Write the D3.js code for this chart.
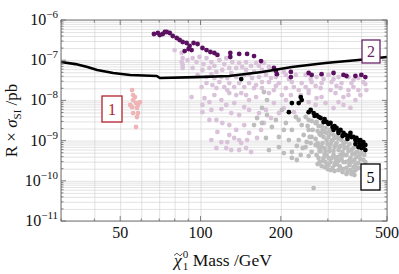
<!DOCTYPE html>
<html lang="en">
<head>
<meta charset="UTF-8">
<title>R x sigma_SI vs neutralino mass</title>
<script src="https://d3js.org/d3.v7.min.js"></script>
<style>
  body { margin: 0; background: #fff; }
  svg { display: block; font-family: "Liberation Serif", "DejaVu Serif", serif; }
  .grid line { stroke: #cfcfcf; stroke-width: 0.6; }
  .grid path { display: none; }
</style>
</head>
<body>
<div id="chart"></div>
<script>
// tick labels
var xTicks = [50, 100, 200, 500];
var yTicks = [1e-6, 1e-7, 1e-8, 1e-9, 1e-10, 1e-11];
var yTickExp = ["\u22126", "\u22127", "\u22128", "\u22129", "\u221210", "\u221211"];

// exclusion curve (mass GeV, R x sigma pb)
var limitMass  = [30, 34, 37.7, 41, 47.1, 54.5, 68.6, 70.4, 96.6, 128, 170, 220, 294, 390, 500];
var limitSigma = [9.0e-8, 8.0e-8, 6.8e-8, 5.7e-8, 4.8e-8, 4.3e-8, 4.05e-8, 3.6e-8, 3.8e-8, 4.05e-8, 5.1e-8, 6.8e-8, 8.5e-8, 1.01e-7, 1.2e-7];

// model points [mass, R x sigma]
var region1 = [[55.4,1.81e-8],[55.9,1.36e-8],[56.8,1.21e-8],[55.9,1.02e-8],[57.3,8.6e-9],[58.3,7.7e-9],[59.3,9.1e-9],
  [54.5,7.7e-9],[55.4,6.8e-9],[57.8,6.5e-9],[55.9,4.85e-9],[58.3,4.85e-9],[57.8,3.86e-9],[57.3,2.18e-9]];

var region2 = [[66.9,4.49e-7],[69.2,4.75e-7],[70.4,4.24e-7],[72.2,4.49e-7],[73.5,5.03e-7],[74.7,5.03e-7],[76.7,4.75e-7],
  [78.7,4.0e-7],[81.4,3.57e-7],[83.5,3.18e-7],[85.7,2.84e-7],[88.7,2.68e-7],[91.0,2.26e-7],[94.2,2.68e-7],[97.5,2.53e-7],
  [87.2,1.69e-7],[90.2,1.90e-7],[92.6,1.79e-7],[101.7,2.01e-7],[105.3,1.79e-7],[108.9,1.60e-7],[112.7,1.51e-7],[115.7,1.35e-7],
  [129.3,1.51e-7],[129.3,1.2e-7],[139.6,1.43e-7],[149.5,1.43e-7],[158.7,1.27e-7],[168.6,9.5e-8],[188.4,6.4e-8],[191.7,5.4e-8],
  [193.3,4.5e-8],[218.1,5.1e-8],[218.1,3.8e-8],[254.3,4.8e-8],[260.9,4.3e-8],[284.3,4.5e-8],[315.2,4.8e-8],[343.4,4.3e-8],
  [352.4,4.05e-8],[380.7,4.05e-8],[400.8,4.3e-8],[414.8,3.8e-8]];

var regionLilac = [[80.0,1.79e-7],[85.0,1.51e-7],[85.7,1.13e-7],[85.0,9.0e-8],[85.7,7.6e-8],[93.4,1.13e-7],[99.1,1.2e-7],
  [105.3,1.13e-7],[109.8,9.0e-8],[117.7,1.01e-7],[124.9,1.13e-7],[131.5,9.0e-8],[139.6,8.5e-8],[148.2,9.0e-8],[161.5,8.5e-8],
  [172.9,8.5e-8],[85.7,6.4e-8],[93.4,6.4e-8],[101.7,5.7e-8],[108.0,6.4e-8],[114.7,5.1e-8],[120.7,5.7e-8],[128.2,6.4e-8],
  [136.1,6.4e-8],[148.2,5.7e-8],[158.7,5.1e-8],[170.0,5.7e-8],[105.3,3.8e-8],[112.7,3.6e-8],[119.7,3.8e-8],[126.0,3.6e-8],
  [136.1,3.8e-8],[145.8,4.3e-8],[156.1,3.6e-8],[165.7,3.8e-8],[175.9,4.3e-8],[100.9,2.15e-8],[105.3,2.7e-8],[110.8,2.4e-8],
  [117.7,2.86e-8],[122.8,2.15e-8],[128.2,2.7e-8],[133.8,2.15e-8],[139.6,2.7e-8],[152.1,2.7e-8],[161.5,2.4e-8],[170.0,2.86e-8],
  [112.7,1.36e-8],[103.5,1.14e-8],[108.0,9.1e-9],[101.7,7.7e-9],[101.7,5.1e-9],[109.8,5.8e-9],[119.7,6.1e-9],[124.9,7.7e-9],
  [133.8,8.6e-9],[126.0,1.81e-8],[128.2,1.52e-8],[142.1,1.52e-8],[148.2,1.36e-8],[158.7,2.03e-8],[161.5,1.21e-8],[152.1,5.8e-9],
  [139.6,4.33e-9],[114.7,3.25e-9],[120.7,2.74e-9],[128.2,2.44e-9],[136.1,1.84e-9],[115.7,1.64e-9],[119.7,9.2e-10],[126.0,9.2e-10],
  [133.8,1.16e-9],[139.6,1.03e-9],[142.1,8.7e-10],[149.5,1.03e-9],[152.1,1.55e-9],[162.9,1.16e-9],[168.6,1.84e-9],[172.9,2.74e-9],
  [165.7,4.85e-9],[114.7,6.5e-10],[124.9,6.5e-10],[130.4,5.8e-10],[148.2,6.5e-10],[154.7,5.2e-10],[92.6,1.21e-8],
  [170.0,9.0e-8],[180.5,6.8e-8],[205.3,5.1e-8],[191.7,3.8e-8],[208.9,4.3e-8],[227.7,4.3e-8],[247.8,4.3e-8],[272.3,3.8e-8],
  [301.9,4.3e-8],[329.0,3.8e-8],[358.5,3.8e-8],[390.6,3.6e-8],[180.5,2.86e-8],[196.7,2.7e-8],[220.0,2.86e-8],[239.5,2.7e-8],
  [260.9,2.86e-8],[284.3,2.7e-8],[309.8,2.86e-8],[337.6,2.7e-8],[367.8,2.7e-8],[170.0,2.03e-8],[188.4,1.81e-8],[208.9,2.03e-8],
  [233.4,1.81e-8],[254.3,1.81e-8],[281.8,2.03e-8],[307.2,1.81e-8],[334.7,2.03e-8],[358.5,1.81e-8],[180.5,1.52e-8],[201.8,1.36e-8],
  [254.3,1.52e-8],[284.3,1.21e-8],[320.6,1.52e-8],[358.5,1.36e-8],[329.0,9.1e-9],[294.2,8.6e-9],[270.0,7.7e-9],[188.4,8.6e-9],
  [175.9,5.8e-9],[196.7,4.85e-9],[223.8,5.1e-9],[374.2,2.15e-8],[247.8,2.15e-8],[407.7,2.86e-8],[418.4,1.81e-8],[397.4,1.36e-8],
  [380.7,1.02e-8],[343.4,7.7e-9],[364.7,6.5e-9],
  [89.4,1.01e-7],[96.6,9.0e-8],[102.6,8.0e-8],[112.7,7.2e-8],[122.8,8.0e-8],[143.3,6.8e-8],[154.7,7.2e-8],[165.7,7.2e-8],
  [97.5,4.3e-8],[109.8,4.5e-8],[130.4,4.8e-8],[152.1,4.5e-8],[114.7,2.03e-8],[145.8,2.15e-8],[136.1,1.36e-8],[119.7,1.02e-8],
  [152.1,1.02e-8],[145.8,6.84e-9],[130.4,4.85e-9],[108.0,3.25e-9],[145.8,2.44e-9],[109.8,1.03e-9],[128.2,1.38e-9],[139.6,5.83e-10],
  [183.7,3.6e-8],[214.4,3.4e-8],[258.7,3.4e-8],[289.2,3.4e-8],[315.2,3.4e-8],[374.2,3.2e-8],[414.8,2.55e-8],[191.7,2.28e-8],
  [223.8,2.15e-8],[270.0,2.28e-8],[323.4,2.28e-8],[390.6,1.81e-8],[218.1,1.36e-8],[237.5,1.36e-8],[272.3,1.14e-8],[343.4,1.21e-8],
  [208.9,1.02e-8],[254.3,9.1e-9],[315.2,6.46e-9],[205.3,6.46e-9],[183.7,3.65e-9]];

var regionGray = [[170.0,2.74e-9],[185.2,2.18e-9],[208.9,2.74e-9],[233.4,3.25e-9],[247.8,3.86e-9],[227.7,3.86e-9],[220.0,1.84e-9],
  [196.7,1.23e-9],[175.9,1.16e-9],[233.4,1.03e-9],[260.9,1.23e-9],[284.3,1.55e-9],[277.0,7.8e-10],[247.8,6.9e-10],[180.5,5.8e-10],
  [196.7,6.9e-10],[205.3,4.9e-10],[220.0,5.2e-10],[220.0,3.7e-10],[237.5,4.4e-10],[260.9,5.2e-10],[270.0,7.8e-10],[265.4,6.6e-11],
  [254.3,3.25e-9],[270.0,2.74e-9],[239.5,2.44e-9],[254.3,1.84e-9],[172.9,1.61e-8],[177.5,1.02e-8],[170.0,6.5e-9],[177.5,4.33e-9],
  [162.9,3.65e-9],[158.7,2.44e-9],[201.8,5.8e-9],[191.7,3.25e-9],[214.4,1.03e-9],[243.6,1.38e-9],[258.7,8.7e-10],[205.3,1.84e-9],
  [272.3,2.9e-9],[274.7,1.73e-9],[270.0,1.1e-9],[277.0,6.9e-10],[272.3,4.4e-10],[279.4,2.93e-10],[284.3,2.31e-9],[281.8,1.38e-9],
  [286.7,8.7e-10],[281.8,5.5e-10],[289.2,3.7e-10],[284.3,2.33e-10],[294.2,2.06e-9],[291.7,1.64e-9],[296.8,1.03e-9],[291.7,6.5e-10],
  [296.8,4.4e-10],[294.2,2.93e-10],[299.3,1.96e-10],[304.5,1.84e-9],[301.9,1.23e-9],[307.2,8.2e-10],[304.5,5.5e-10],[309.8,3.7e-10],
  [301.9,2.47e-10],[307.2,1.85e-10],[315.2,1.38e-9],[312.5,1.03e-9],[317.9,6.9e-10],[315.2,4.4e-10],[320.6,2.93e-10],[312.5,2.08e-10],
  [326.2,1.23e-9],[323.4,8.7e-10],[329.0,5.8e-10],[326.2,3.9e-10],[323.4,2.61e-10],[329.0,1.85e-10],[337.6,1.03e-9],[334.7,7.3e-10],
  [340.5,5.2e-10],[337.6,3.48e-10],[331.8,2.33e-10],[340.5,1.65e-10],[349.4,9.2e-10],[346.4,6.5e-10],[352.4,4.4e-10],[349.4,2.93e-10],
  [343.4,1.96e-10],[352.4,1.47e-10],[361.6,8.2e-10],[358.5,5.5e-10],[364.7,3.7e-10],[361.6,2.47e-10],[355.4,1.65e-10],[374.2,6.5e-10],
  [371.0,4.6e-10],[377.4,3.3e-10],[374.2,2.2e-10],[367.8,1.47e-10],[387.3,5.2e-10],[384.0,3.9e-10],[390.6,2.77e-10],[380.7,1.85e-10],
  [400.8,4.9e-10],[397.4,3.48e-10],[411.2,4.4e-10],[414.8,2.93e-10],[387.3,2.08e-10],[377.4,1.39e-10],
  [277.0,2.31e-9],[279.4,1.46e-9],[274.7,8.7e-10],[279.4,5.5e-10],[277.0,3.69e-10],[274.7,2.61e-10],[286.7,1.84e-9],[289.2,1.23e-9],
  [284.3,6.92e-10],[291.7,4.63e-10],[286.7,3.1e-10],[291.7,2.2e-10],[296.8,1.55e-9],[299.3,8.22e-10],[294.2,5.5e-10],[301.9,3.69e-10],
  [296.8,2.33e-10],[307.2,1.46e-9],[309.8,9.76e-10],[304.5,6.54e-10],[307.2,2.93e-10],[317.9,1.75e-10],[317.9,1.16e-9],[320.6,7.76e-10],
  [315.2,5.5e-10],[320.6,3.69e-10],[317.9,2.47e-10],[329.0,1.1e-9],[331.8,6.92e-10],[334.7,4.38e-10],[329.0,3.1e-10],[334.7,2.08e-10],
  [343.4,8.22e-10],[343.4,4.38e-10],[343.4,2.93e-10],[355.4,6.92e-10],[358.5,3.1e-10],[352.4,2.08e-10],[367.8,5.83e-10],[367.8,2.93e-10],
  [364.7,1.85e-10],[380.7,4.91e-10],[380.7,2.61e-10],[374.2,1.65e-10],[394.0,4.13e-10],[407.7,3.29e-10],[390.6,2.08e-10],
  [260.9,3.07e-9],[252.1,2.31e-9],[263.2,1.84e-9],[256.5,1.23e-9],[250.0,9.22e-10],[241.5,6.54e-10],[229.6,7.33e-10],[254.3,4.13e-10],
  [229.6,3.29e-10]];

var region5 = [[142.1,3.4e-8],[237.5,1.21e-8],[239.5,1.02e-8],[233.4,8.6e-9],[220.0,8.6e-9],[214.4,5.1e-9],[254.3,5.1e-9],
  [258.7,5.8e-9],[265.4,4.85e-9],[267.7,4.1e-9],[272.3,4.3e-9],[277.0,3.9e-9],[281.8,3.65e-9],[289.2,2.9e-9],[291.7,3.44e-9],
  [296.8,2.9e-9],[301.9,2.6e-9],[307.2,2.74e-9],[312.5,2.18e-9],[315.2,1.84e-9],[317.9,2.3e-9],[323.4,2.06e-9],[329.0,1.73e-9],
  [329.0,1.55e-9],[334.7,1.84e-9],[340.5,1.3e-9],[343.4,1.55e-9],[349.4,1.38e-9],[355.4,1.1e-9],[358.5,1.3e-9],[364.7,1.55e-9],
  [367.8,1.23e-9],[374.2,1.23e-9],[380.7,1.03e-9],[384.0,1.16e-9],[390.6,1.03e-9],[394.0,8.7e-10],[397.4,1.03e-9],[400.8,8.2e-10],
  [407.7,9.2e-10],[407.7,6.9e-10],[414.8,7.8e-10],[400.8,6.5e-10],[390.6,6.9e-10],[414.8,5.8e-10],[380.7,8.2e-10]];

var width = 399, height = 274;
var margin = {top: 20, right: 12, bottom: 53, left: 61};
var plotW = width - margin.left - margin.right;
var plotH = height - margin.top - margin.bottom;

var svg = d3.select("#chart").append("svg")
  .attr("width", width)
  .attr("height", height);

var x = d3.scaleLog().domain([30, 500]).range([margin.left, margin.left + plotW]);
var y = d3.scaleLog().domain([1e-11, 1e-6]).range([margin.top + plotH, margin.top]);

// grid lines
svg.append("g").attr("class", "grid")
  .attr("transform", "translate(0," + margin.top + ")")
  .call(d3.axisBottom(x).tickValues(x.ticks()).tickSize(plotH).tickFormat(""));
svg.append("g").attr("class", "grid")
  .attr("transform", "translate(" + margin.left + ",0)")
  .call(d3.axisRight(y).tickValues(y.ticks()).tickSize(plotW).tickFormat(""));

// points
function drawPoints(data, color) {
  svg.append("g").selectAll("circle")
    .data(data)
    .enter().append("circle")
    .attr("cx", function(d) { return x(d[0]); })
    .attr("cy", function(d) { return y(d[1]); })
    .attr("r", 2.4)
    .attr("fill", color);
}
drawPoints(regionLilac, "#d9c2da");
drawPoints(regionGray, "#bdbdbd");
drawPoints(region1, "#efb4b6");
drawPoints(region5, "#000");
drawPoints(region2, "#5b1060");

// limit curve
var line = d3.line()
  .x(function(d, i) { return x(limitMass[i]); })
  .y(function(d) { return y(d); });
svg.append("path")
  .attr("d", line(limitSigma))
  .attr("fill", "none")
  .attr("stroke", "#000")
  .attr("stroke-width", 2.6)
  .attr("stroke-linejoin", "round");

// frame and inward ticks
svg.append("rect")
  .attr("x", margin.left).attr("y", margin.top)
  .attr("width", plotW).attr("height", plotH)
  .attr("fill", "none").attr("stroke", "#666").attr("stroke-width", 0.9);

var frameTicks = svg.append("g").attr("stroke", "#666").attr("stroke-width", 0.8);
y.ticks().forEach(function(v) {
  var major = yTicks.indexOf(v) >= 0;
  var len = major ? 5 : 2.5;
  frameTicks.append("line").attr("x1", margin.left).attr("x2", margin.left + len)
    .attr("y1", y(v)).attr("y2", y(v));
  frameTicks.append("line").attr("x1", margin.left + plotW).attr("x2", margin.left + plotW - len)
    .attr("y1", y(v)).attr("y2", y(v));
});
x.ticks().forEach(function(v) {
  var major = xTicks.indexOf(v) >= 0;
  var len = major ? 5 : 2.5;
  frameTicks.append("line").attr("y1", margin.top + plotH).attr("y2", margin.top + plotH - len)
    .attr("x1", x(v)).attr("x2", x(v));
  frameTicks.append("line").attr("y1", margin.top).attr("y2", margin.top + len)
    .attr("x1", x(v)).attr("x2", x(v));
});

// tick labels
yTicks.forEach(function(v, i) {
  var t = svg.append("text")
    .attr("x", margin.left - 3)
    .attr("y", y(v) + 5)
    .attr("text-anchor", "end")
    .attr("font-size", 16)
    .attr("fill", "#111");
  t.append("tspan").text("10");
  t.append("tspan").attr("dy", -7).attr("font-size", 11).text(yTickExp[i]);
});
xTicks.forEach(function(v) {
  svg.append("text")
    .attr("x", x(v))
    .attr("y", margin.top + plotH + 17)
    .attr("text-anchor", "middle")
    .attr("font-size", 16)
    .attr("fill", "#111")
    .text(v);
});

// axis titles
var xt = svg.append("text")
  .attr("x", margin.left + plotW / 2 - 1)
  .attr("y", 266)
  .attr("text-anchor", "middle")
  .attr("font-size", 17.5)
  .attr("fill", "#111");
xt.append("tspan").attr("font-style", "italic").text("\u03c7");
xt.append("tspan").attr("font-size", 11).attr("dx", 1).attr("dy", -8).text("0");
xt.append("tspan").attr("font-size", 11).attr("dx", -5.5).attr("dy", 12).text("1");
xt.append("tspan").attr("dy", -4).text(" Mass /GeV");
// tilde accent over chi, drawn as a small stroke
var chiLeft = xt.node().getBBox().x;
var tp = d3.path();
var tx = chiLeft + 2.5, ty = 254.5;
tp.moveTo(tx, ty + 1);
tp.bezierCurveTo(tx + 1.5, ty - 2, tx + 3, ty - 1, tx + 3.8, ty);
tp.bezierCurveTo(tx + 4.6, ty + 1, tx + 6, ty + 2, tx + 7.5, ty - 1);
svg.append("path").attr("d", tp.toString())
  .attr("fill", "none").attr("stroke", "#111").attr("stroke-width", 0.9);

var yt = svg.append("text")
  .attr("transform", "translate(17," + (margin.top + plotH / 2) + ") rotate(-90)")
  .attr("text-anchor", "middle")
  .attr("font-size", 17)
  .attr("fill", "#111");
yt.append("tspan").text("R \u00d7 ");
yt.append("tspan").attr("font-style", "italic").text("\u03c3");
yt.append("tspan").attr("font-size", 11).attr("dy", 4).text("SI");
yt.append("tspan").attr("dy", -4).text(" /pb");

// region labels
function regionBox(label, bx, by, bw, bh, color) {
  svg.append("rect")
    .attr("x", bx).attr("y", by).attr("width", bw).attr("height", bh)
    .attr("fill", "#fff").attr("stroke", color).attr("stroke-width", 1.3);
  svg.append("text")
    .attr("x", bx + bw / 2).attr("y", by + bh / 2 + 5.5)
    .attr("text-anchor", "middle")
    .attr("font-size", 16)
    .attr("fill", color)
    .text(label);
}
regionBox("1", 102, 96, 20, 26, "#b1232d");
regionBox("2", 362, 40, 18, 23, "#6a2468");
regionBox("5", 361, 164, 19, 26, "#000");
</script>
</body>
</html>
